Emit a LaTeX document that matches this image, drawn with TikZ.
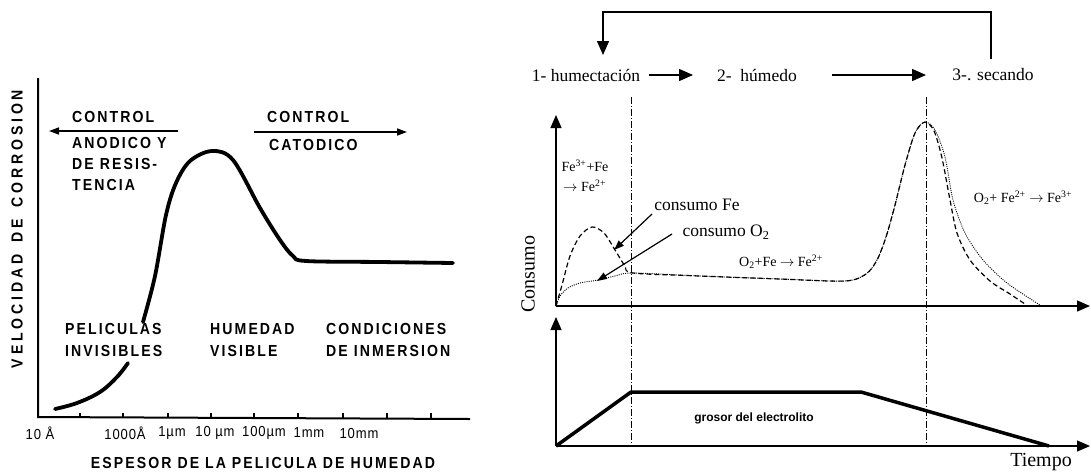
\documentclass[tikz,border=0pt]{standalone}
\usepackage{fontspec}
\setmainfont{Liberation Serif}
\newfontfamily\capsans[LetterSpace=13,FakeStretch=0.88]{Liberation Sans}
\newfontfamily\vertsans[LetterSpace=24,FakeStretch=0.88]{Liberation Sans}
\newfontfamily\ticksans[LetterSpace=6,FakeStretch=0.9]{Liberation Sans}
\newfontfamily\plainsans{Liberation Sans}
\usetikzlibrary{arrows.meta}
\begin{document}
\begin{tikzpicture}[x=1pt,y=-1pt,
  captext/.style={inner sep=0pt,font=\capsans\bfseries\fontsize{16}{18}\selectfont},
  ticktext/.style={inner sep=0pt,font=\ticksans\fontsize{14.5}{16}\selectfont},
  sertext/.style={inner sep=0pt,font=\fontsize{17.5}{20}\selectfont},
  chemtext/.style={inner sep=0pt,font=\fontsize{14}{16}\selectfont},
  bigtext/.style={inner sep=0pt,font=\fontsize{20}{22}\selectfont},
  leftaxis/.style={line width=2pt},
  bigcurve/.style={line width=3.8pt,line cap=round},
  smallarrow/.style={line width=1.6pt,-{Triangle[length=10pt,width=7pt]}},
  bigarrow/.style={line width=1.4pt,-{Triangle[length=14pt,width=12pt]}},
  axisarrow/.style={line width=1.3pt,-{Triangle[length=13pt,width=11pt]}},
  ptrarrow/.style={line width=1.2pt,-{Triangle[length=10pt,width=7pt]}},
  dashdotline/.style={line width=0.9pt,dash pattern=on 7pt off 2pt on 1pt off 2pt},
  fecurve/.style={line width=1.2pt,dash pattern=on 5pt off 3pt},
  o2curve/.style={line width=0.9pt,dash pattern=on 1pt off 1.2pt},
]
\path[use as bounding box,fill=white] (0,0) rectangle (1091,472);

% ================= LEFT CHART =================
\coordinate (yTop) at (38,78);
\coordinate (orig) at (38,417);
\coordinate (xEnd) at (470,419);
\draw[leftaxis] (yTop) -- (orig) -- (xEnd);
\foreach \tx in {80,123,168,211,254,298,343,387,431}
  \draw[line width=1.6pt] (\tx,417.6) -- (\tx,412.5);

% curve
\draw[bigcurve] plot[smooth,tension=0.6] coordinates {(55,409) (77,403) (100,392) (117,377) (128,363)};
\draw[bigcurve] plot[smooth,tension=0.55] coordinates {(143,322) (155,276) (166,215) (176,183) (190,161) (212,151) (233,160) (260,208) (280,240) (293,256) (306,261) (380,262) (453,263)};

% control arrows
\coordinate (ca1) at (178,131);
\coordinate (ca2) at (49,131);
\coordinate (cc1) at (254,132);
\coordinate (cc2) at (407,132);
\draw[smallarrow] (ca1) -- (ca2);
\draw[smallarrow] (cc1) -- (cc2);

\node[captext,anchor=west] (ctl1) at (72,117) {CONTROL};
\node[captext,anchor=west] (anod) at (72,142.5) {ANODICO Y};
\node[captext,anchor=west] (resis) at (72,164) {DE RESIS-};
\node[captext,anchor=west] (tenc) at (72,184.5) {TENCIA};
\node[captext,anchor=west] (ctl2) at (267,117) {CONTROL};
\node[captext,anchor=west] (catod) at (269,145) {CATODICO};

\node[captext,anchor=west] (pel) at (65,329) {PELICULAS};
\node[captext,anchor=west] (invis) at (65,351) {INVISIBLES};
\node[captext,anchor=west] (hum) at (210,329) {HUMEDAD};
\node[captext,anchor=west] (visi) at (210,351) {VISIBLE};
\node[captext,anchor=west] (cond) at (326,329) {CONDICIONES};
\node[captext,anchor=west] (inm) at (326,351) {DE INMERSION};

\node[ticktext] (t1) at (40,433) {10 Å};
\node[ticktext] (t2) at (125,433) {1000Å};
\node[ticktext] (t3) at (172,433) {1µm};
\node[ticktext] (t4) at (215,433) {10 µm};
\node[ticktext] (t5) at (264,433) {100µm};
\node[ticktext] (t6) at (309,433) {1mm};
\node[ticktext] (t7) at (359,433) {10mm};

\node[captext] (xlab) at (263,463) {ESPESOR DE LA PELICULA DE HUMEDAD};
\node[inner sep=0pt,font=\vertsans\bfseries\fontsize{16}{18}\selectfont,rotate=90] (ylab) at (17,229) {VELOCIDAD\hspace{4pt} DE\hspace{4pt} CORROSION};

% ================= RIGHT CHART =================
\node[sertext] (s1) at (586,75) {1- humectación};
\node[sertext] (s2) at (757,75) {2-\ \ húmedo};
\node[sertext] (s3) at (993,75) {3-. secando};

\coordinate (a1s) at (649,75);
\coordinate (a1e) at (693,75);
\coordinate (a2s) at (832,75);
\coordinate (a2e) at (926,75);
\draw[bigarrow] (a1s) -- (a1e);
\draw[bigarrow] (a2s) -- (a2e);
\coordinate (loopR) at (991,59);
\coordinate (loopL) at (603,55);
\draw[bigarrow] (loopR) |- (603,12) -- (loopL);

% axes
\coordinate (o1) at (556,306);
\coordinate (o2) at (556,446);
\coordinate (y1) at (556,115);
\coordinate (y2) at (556,317);
\coordinate (x1) at (1090,306);
\coordinate (x2) at (1090,446);
\draw[axisarrow] (o1) -- (y1);
\draw[axisarrow] (o1) -- (x1);
\draw[axisarrow] (o2) -- (y2);
\draw[axisarrow] (o2) -- (x2);

% dash-dot lines
\draw[dashdotline] (631,97) -- (631,446);
\draw[dashdotline] (926,97) -- (926,446);

% curves
\draw[o2curve] plot[smooth,tension=0.5] coordinates {(556,306) (560,296) (568,288) (580,283) (598,280) (615,276) (633,273) (700,276) (780,279) (845,281) (866,274) (877,260) (886,237) (895,205) (905,165) (915,133) (925,122) (935,130) (945,157) (953,200) (965,233) (983,260) (1007,283) (1040,305)};
\draw[fecurve] plot[smooth,tension=0.5] coordinates {(556,306) (562,285) (570,256) (580,236) (592,227) (604,233) (615,250) (625,266) (633,273) (700,276) (780,279) (845,281) (866,274) (877,260) (886,237) (895,205) (905,165) (915,133) (925,122) (934,131) (942,158) (950,200) (957,233) (970,260) (990,281) (1010,294) (1025,304)};

% labels
\node[chemtext] (r1a) at (585,166) {Fe\textsuperscript{3+}+Fe};
\node[chemtext,anchor=west] (r1b) at (563,186) {$\rightarrow$ Fe\textsuperscript{2+}};
\node[sertext] (cfe) at (697,205) {consumo Fe};
\node[sertext] (co2) at (726,232) {consumo O\textsubscript{2}};
\node[chemtext] (r2) at (781,262) {O\textsubscript{2}+Fe $\rightarrow$ Fe\textsuperscript{2+}};
\node[chemtext] (r3) at (1023,198) {O\textsubscript{2}+ Fe\textsuperscript{2+} $\rightarrow$ Fe\textsuperscript{3+}};

\coordinate (pfe) at (614,250);
\coordinate (po2) at (597,281);
\draw[ptrarrow] (652,214) -- (pfe);
\draw[ptrarrow] (672,234) -- (po2);

% electrolyte thickness
\draw[line width=3.5pt,line join=round] (o2) -- (631,392) -- (861,392) -- (1049,446);
\node[inner sep=0pt,font=\plainsans\bfseries\fontsize{12}{14}\selectfont] (gros) at (754,418) {grosor del electrolito};

\node[bigtext,rotate=90] (cons) at (528,274) {Consumo};
\node[bigtext] (tiem) at (1041,462) {Tiempo};
\end{tikzpicture}
\end{document}
